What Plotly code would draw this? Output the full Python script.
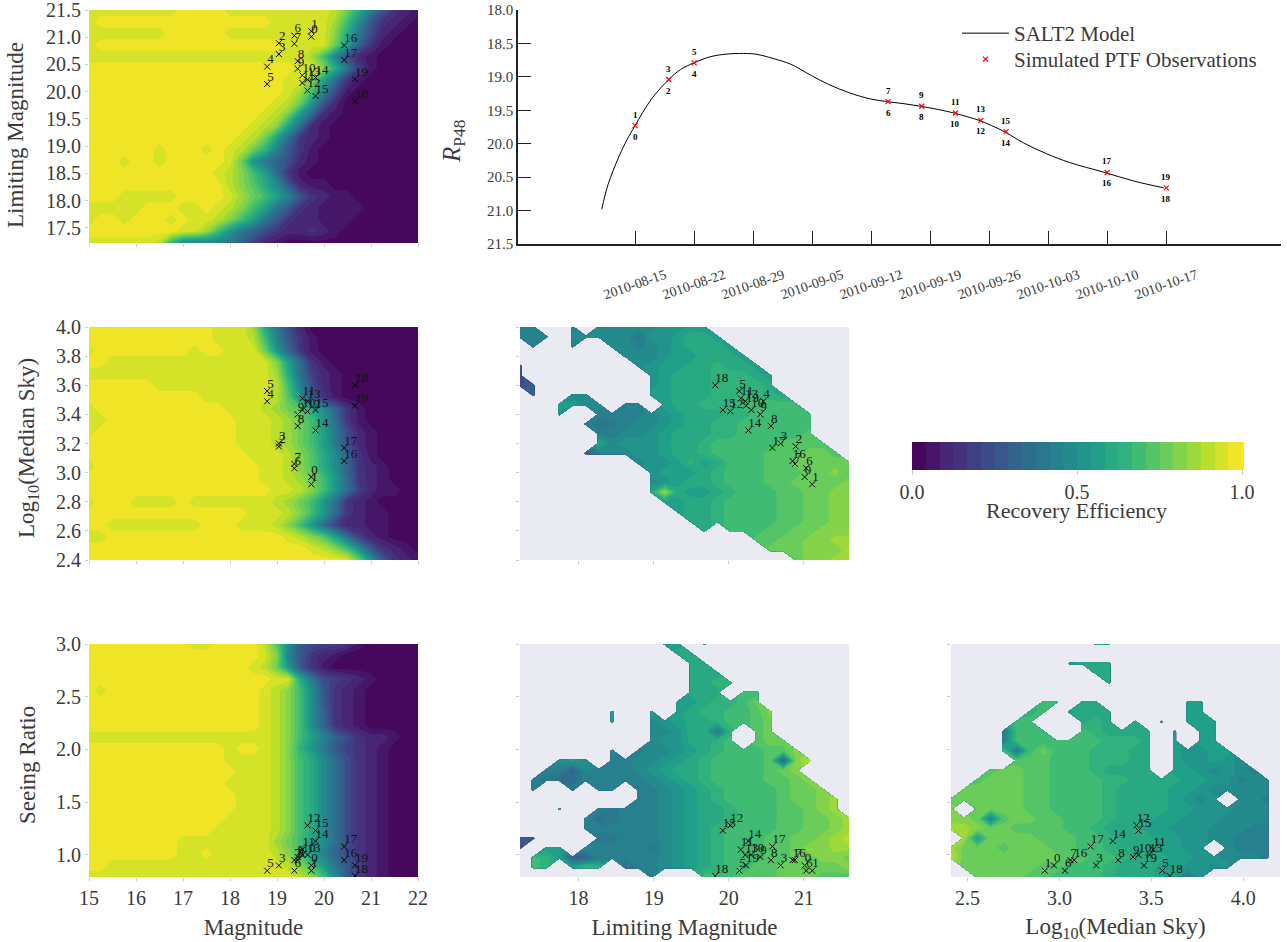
import plotly.graph_objects as go

# ---------- page placement ----------
OX, OY = 0, 0
W, H = 1287, 942
SERIF = "Liberation Serif"
INK = "#3a3a3a"

def xd(a, b):
    return [(a - OX) / W, (b - OX) / W]

def yd(top, bottom):
    return [1 - (bottom - OY) / H, 1 - (top - OY) / H]

def px(a):
    return (a - OX) / W

def py(b):
    return 1 - (b - OY) / H

# ---------- light curve ----------
model_day = [-3.95, -3.2, -1.9, -0.95, 0, 1.9, 4, 5.4, 7, 8.9, 10.8, 12.4, 14.3, 16.5, 18.45, 20.9, 22.9, 25.45,
             27.9, 29.85, 31.8, 33.9, 36, 37.8, 39.5, 40.8, 42.3, 43.8, 46.1, 48.8, 51.5, 55.7, 59.2, 62.7]
model_mag = [20.98, 20.61, 20.19, 19.94, 19.73, 19.34, 19.04, 18.89, 18.79, 18.70, 18.66, 18.65, 18.66, 18.73,
             18.81, 18.98, 19.11, 19.24, 19.33, 19.37, 19.40, 19.44, 19.49, 19.54, 19.60, 19.65, 19.73, 19.82,
             19.99, 20.15, 20.28, 20.43, 20.56, 20.66]
obs_day = [0, 4, 7, 30, 34, 38, 41, 44, 56, 63]
obs_day_mag = [19.73, 19.04, 18.79, 19.37, 19.44, 19.54, 19.65, 19.82, 20.43, 20.66]
date_ticks = [0, 7, 14, 21, 28, 35, 42, 49, 56, 63]
date_labels = ["2010-08-15", "2010-08-22", "2010-08-29", "2010-09-05", "2010-09-12",
               "2010-09-19", "2010-09-26", "2010-10-03", "2010-10-10", "2010-10-17"]

# ---------- the 20 simulated observations ----------
ids = [str(i) for i in range(20)]
obs_mag = [19.73, 19.73, 19.04, 19.04, 18.79, 18.79, 19.37, 19.37, 19.44, 19.44,
           19.54, 19.54, 19.65, 19.65, 19.82, 19.82, 20.43, 20.43, 20.66, 20.66]
obs_lim = [21.01, 21.11, 20.89, 20.69, 20.46, 20.14, 21.03, 20.88, 20.56, 20.42,
           20.30, 20.16, 20.02, 20.22, 20.26, 19.92, 20.85, 20.58, 19.82, 20.23]
obs_sky = [2.97, 2.92, 3.18, 3.20, 3.49, 3.56, 3.03, 3.06, 3.32, 3.40,
           3.43, 3.51, 3.42, 3.49, 3.29, 3.43, 3.08, 3.17, 3.60, 3.46]
obs_see = [0.90, 0.85, None, 0.90, None, 0.85, 0.85, 0.95, 0.95, 0.98,
           1.00, 1.05, 1.28, 1.00, 1.13, 1.23, 0.95, 1.08, 0.80, 0.90]

# ---------- efficiency maps: one letter per band, a = lowest band, x = highest, . = no data ----------
BANDS = "abcdefghijklmnopqrstuvwx"

mag_lim_map = [
    "wwwwwwwwxxxxwwwwwwwwwvsokgdcb",
    "wxxxxxxxxxxxxxxxwwwwwuqlgdcba",
    "wwwwwwwxxxxxwwwwwwwwwtojfcbaa",
    "wxxxxxxxxxxxxxxxxwwwwsnhdbaaa",
    "wwwwwwwwwwwwwwwwwwwuqkfcbaaaa",
    "xxxxxxxxxxxxxxxxxxwwtojebaaaa",
    "xxxxxxxxxxxxxxxxxwwtnidbaaaaa",
    "xxxxxxxxxxxxxxxxxwuqkfbaaaaaa",
    "xxxxxxxxxxxxxxxxwvsmgcaaaaaaa",
    "xxxxxxxxxxxxxxxwvsmhcbaaaaaaa",
    "xxxxxxxxxxxxxxwvtnicbaaaaaaaa",
    "xxxxxxxxxxxxxwvsnidcbaaaaaaaa",
    "xxxxxxwxxxwxwvspkgdbaaaaaaaaa",
    "xxxwxxwxxxxxwsmjhfcbaaaaaaaaa",
    "xxxxxxxxxxxwvtqnidbaaaaaaaaaa",
    "xxxxxxxxxxxxvtrolgcbbaaaaaaaa",
    "xxxwwwwwxxxxwusqnkgdcbbaaaaaa",
    "wwwwwxxxwwxwvtqnjgdcbbbbaaaaa",
    "wxxwxxxwxwwvtqnjgdccbbbaaaaaa",
    "xxxxxxxxwwuqmjhfdccdcbaaaaaaa",
    "wwwwwwvplkkkjhecbaaaaaaaaaaaa",
]
mag_sky_map = [
    "xxxxxxxxxxxwwwuojfcaaaaaaaaaa",
    "xxxxxxxxxxxwwwvqkgdbaaaaaaaaa",
    "wxxxxxxxxwxxwwwsmhdbaaaaaaaaa",
    "xxwwwwwwwwwwwwwwtnidbaaaaaaaa",
    "wwwwwwwwwwwwwwwwuoiecbaaaaaaa",
    "xxxxxxwwwwwwwwwwvqkfcbaaaaaaa",
    "xxxxxxxxxxwwwwwwvrlgdbaaaaaaa",
    "wxxxxxxxxxxxwwwvusrolhdbaaaaa",
    "wwxxxxxxxxxxxwwwvusqmidbaaaaa",
    "wxxxxxxxxxxxxwwwvusqnjfcbaaaa",
    "xxxxxxxxxxxxxwwwvusqnjfcbaaaa",
    "xxxxxxxxxxxxxxwwwvtrolhdbaaaa",
    "wxxxxxxxxxxxxxxwwvtrolhdcbaaa",
    "xxxxxxxxxxxxxxxwwvusqmidcbaaa",
    "xxxxxxxxxxxxxxxxwwvtqmiecbbaa",
    "wxxxwwwwxwwwwwwwvusqmidcbaaaa",
    "xxxxxxxxxxxxxxwwwvtqmidcbbaaa",
    "xxwwwwwwwwxxxwwwvtqmieccbbaaa",
    "wwxxxxxxxxxxxxxxxwvtrniecbaaa",
    "xxxxxxxxxxxxxxxxxxxwvtqlgdcba",
    "xxxxxxxxxxxxxxxxxxxxxxwsmgdcb",
]
mag_see_map = [
    "xxxxxxxxxwwxxxxvrlgfeedbaaaaa",
    "xxxxxxxxxxxxxxxwtkgdcbaaaaaaa",
    "xxxxxxxxxxxxxxwvsmgdbaaaaaaaa",
    "xxxxxxxxxxxxxxxxwwojfedcbaaaa",
    "xwxxxxxxxxxxxxxwvtqlgdcbaaaaa",
    "xxxxxxxxxxxxxxxwvtqlgdcbaaaaa",
    "xxxxxxxxxxxxxxxwvtqlhdcbaaaaa",
    "xxxxxxxxxxxxxxxwvtqlhdcbaaaaa",
    "wwwwwwwwwwwwwwwwvtqnkhfdccbaa",
    "xxxxxxxxxxxxwxxwvtpmjgedcbaaa",
    "xxxxxxxxxxxxwwwwvtqolifdcbaaa",
    "xxxxxxxxxxxxxwwwvtqolifdcbaaa",
    "xxxxxxxxxxxxwwwwvtqolifdcbaaa",
    "xxxxxxxxxxxxxwwwvtqolifdcbaaa",
    "xxxxxxxxxxxxxwwwvtqolifdcbaaa",
    "xxxxxxxxxxxxwwwwvtqolifdcbaaa",
    "xxxxxxxxxxxwwwwwvtqolifdcbaaa",
    "xxxxxxxxwwwwwwwwusqnlifdcbaaa",
    "xxxxxxxxwwxwwwwwvtqnkhfdcbaaa",
    "xxwwwwwwwwwwwwwwwvtqmjgecbaaa",
    "wwwwwwwwwwwwwwwwwwvtqlgdcbaaa",
]
lim_sky_map = [
    "kk..k.lllllmmnn...........",
    "kkk.llllljmmnoon..........",
    ".k..k..llklmnooon.........",
    "........lllmnnooon........",
    "g........lmnnoopoon.......",
    "f.........mnooopppon......",
    "fh........mnoooppppo......",
    ".h..ll....nnoooppqppo.....",
    "...nnll.kk.noopppqqqqq....",
    "...m..kkkklmnoooppqqqqq...",
    ".....kjjkllmnooppqqqqqq...",
    "......kkllmnoooppqqqqqr...",
    "......olmmmnoopqqqqqrrrr..",
    ".....hkllmmnoopqqqqrrrssr.",
    ".........lmmnpnoqqqrrsssss",
    "..........mnnnopqqqrrrsstr",
    "..........lmnoopqqqrrsssst",
    "..........ouonnopqqqrrsstt",
    "...........nnoopqqqqrrsstt",
    "............noopqqqqrrsstt",
    ".............oopqqqqrrsstt",
    "..............o.qqqrrssttt",
    "..................rrssttuu",
    "...................ssstttu",
    ".....................sttuu",
]
lim_see_map = [
    "...........nn.o...........",
    "............oo............",
    ".............oo...........",
    ".............ooo..........",
    ".............oopp.........",
    ".............ooo.qq.......",
    "............nnoppqs.......",
    ".......n..n.noppqqrt......",
    ".......n..lmnoopqqrs......",
    "..........llmoojp.rs......",
    "..........lmmoopq.rss.....",
    ".......l.kllmnopqqqrrt....",
    "...lnl.kkllmnopqqqqrhtv...",
    "..kkhlkkklmnoopqqqqrst....",
    ".kjiikkkkklmnopqqqqrrst...",
    ".k..j.kk.kklmnopqqqqrsst..",
    ".........kklmnopqqqqrsstu.",
    "...n..kjkkklmnoopqqqrrstu.",
    ".....lijkkklmnoopqqqrrsstu",
    ".....kkkkkklmnopqqqqrrsstu",
    "gg....jjkkklmnopqqqrrsstuv",
    "g.nn.lkkkkjlmnopqqqrrsttuu",
    ".qpnhhkkkkklmnopqqqrrsstts",
    ".qp.nqp.ikklmnopqqrrssssst",
    "..........k...qqqrrrsssrrr",
]
sky_see_map = [
    "...........oo.............",
    "..........................",
    ".........nooo.............",
    "...........oo.............",
    "............o.............",
    "..........................",
    ".......qq.oo......nn......",
    "......pq.nooo.....nn......",
    ".....qq...opo.o.n.nnn.....",
    "....jqqq..qpoooo.m.nn.....",
    "....kqqqqqqqpppo.n.nn.....",
    "....qjqsqqqpppoo.nmmnn....",
    ".....rrrqqqpppoo.nmmnml...",
    "...rssrrqqqpoooo.nnmlmlk..",
    "..rsssrrqqqqppoooonnmmkll.",
    ".sssssrrqqqqpoooonnmlllll.",
    "ssssssrrqqqqpoooonmlm.llk.",
    "t.ssssrrqqqqpoooonnmmmlll.",
    "ttskrssrrqqqpooonnmmmllll.",
    "uutssrrrrqqpooonnmmmlllkk.",
    ".unssssrrrqqpooonnmmllkkk.",
    "usssrsssrrqqpooonnmm.lkkk.",
    "vssssssssrrqqpooonnmmlllk.",
    ".ssssssrrqqqpooonnmmlm....",
    "..ssssrrqqqqpooonnjm......",
]

# ---------- axis extents ----------
mag_range = [15, 22]
lim_range_y = [17.22, 21.5]
sky_range_y = [2.4, 4.0]
see_range_y = [0.79, 3.0]
lim_range_x = [17.22, 21.6]
sky_range_x = [2.41, 4.2]


def decode(rows):
    n = max(len(r) for r in rows)
    out = []
    for r in reversed(rows):
        r = r.ljust(n, ".")
        out.append([None if c == "." else (BANDS.index(c) + 0.5) / 24 for c in r])
    return out


def grid(lo, hi, n):
    return [lo + (hi - lo) * i / (n - 1) for i in range(n)]


fig = go.Figure()

panels = [
    (mag_lim_map, mag_range, lim_range_y, obs_mag, obs_lim, "", (89, 418, 10, 243)),
    (mag_sky_map, mag_range, sky_range_y, obs_mag, obs_sky, "2", (89, 418, 327, 560)),
    (lim_sky_map, lim_range_x, sky_range_y, obs_lim, obs_sky, "3", (520, 849, 327, 560)),
    (mag_see_map, mag_range, see_range_y, obs_mag, obs_see, "4", (89, 418, 644, 877)),
    (lim_see_map, lim_range_x, see_range_y, obs_lim, obs_see, "5", (520, 849, 644, 877)),
    (sky_see_map, sky_range_x, see_range_y, obs_sky, obs_see, "6", (951, 1280, 644, 877)),
]

first = True
bg_shapes = []
for m, xr, yr, ox, oy, sfx, box in panels:
    z = decode(m)
    bg_shapes.append(dict(type="rect", xref=f"x{sfx} domain", yref=f"y{sfx} domain", x0=0, x1=1, y0=0, y1=1,
                          fillcolor="#EAEAF2", line=dict(width=0), layer="below"))
    fig.add_trace(go.Contour(
        x=grid(xr[0], xr[1], len(z[0])), y=grid(yr[0], yr[1], len(z)), z=z,
        xaxis="x" + sfx, yaxis="y" + sfx, zmin=0, zmax=1, colorscale="Viridis",
        connectgaps=False, hoverinfo="skip",
        contours=dict(start=0, end=1, size=1 / 24, coloring="fill", showlines=False),
        line=dict(width=0, smoothing=0),
        showscale=first,
        colorbar=dict(orientation="h", x=px(912), xanchor="left", y=py(442), yanchor="top",
                      lenmode="pixels", len=330, thicknessmode="pixels", thickness=28, xpad=0, ypad=0,
                      tickvals=[0, 0.5, 1], ticktext=["0.0", "0.5", "1.0"], ticks="outside", ticklen=5,
                      tickcolor="#cccccc", outlinewidth=0, tickfont=dict(family=SERIF, size=20, color=INK)),
    ))
    first = False
    keep = [i for i in range(20) if ox[i] is not None and oy[i] is not None]
    kx = [ox[i] for i in keep]
    ky = [oy[i] for i in keep]
    fig.add_trace(go.Scatter(
        x=kx, y=ky, xaxis="x" + sfx, yaxis="y" + sfx, mode="markers", hoverinfo="skip", showlegend=False,
        marker=dict(symbol="x-thin", size=6, line=dict(width=1, color="black"), color="black"),
    ))
    fig.add_trace(go.Scatter(
        x=kx, y=ky, xaxis="x" + sfx, yaxis="y" + sfx, mode="text", text=[ids[i] for i in keep],
        textposition="top right", textfont=dict(family=SERIF, size=13, color="#111111"),
        hoverinfo="skip", showlegend=False,
    ))

# light curve traces
fig.add_trace(go.Scatter(x=model_day, y=model_mag, xaxis="x7", yaxis="y7", mode="lines", name="SALT2 Model",
                         legend="legend", line=dict(color="black", width=1, shape="spline"), hoverinfo="skip"))
fig.add_trace(go.Scatter(x=obs_day, y=obs_day_mag, xaxis="x7", yaxis="y7", mode="markers",
                         name="Simulated PTF Observations", hoverinfo="skip", legend="legend2",
                         marker=dict(symbol="x-thin", size=5, line=dict(width=1.2, color="red"), color="red")))

annots = []
for i, (d, mg) in enumerate(zip(obs_day, obs_day_mag)):
    for label, shift in ((str(2 * i), -11), (str(2 * i + 1), 11)):
        annots.append(dict(x=d, y=mg, xref="x7", yref="y7", text=label, showarrow=False, yshift=shift,
                           font=dict(family=SERIF, size=9, color="black", weight=700)))

TF = dict(family=SERIF, size=20, color=INK)
TITLE = dict(family=SERIF, size=23, color=INK)
LOG_SKY = "Log<sub>10</sub>(Median Sky)"

# axis titles that sit at the reference's own offsets
for text, ax, ay, ang, size in [("Limiting Magnitude", 16, 135, -90, 23), (LOG_SKY, 28, 448, -90, 23),
                                ("Seeing Ratio", 27, 765, -90, 23), ("<i>R</i><sub>P48</sub>", 454, 141, -90, 25),
                                ("Recovery Efficiency", 1076, 510, 0, 22)]:
    annots.append(dict(x=px(ax), y=py(ay), xref="paper", yref="paper", text=text, showarrow=False, textangle=ang,
                       xanchor="center", yanchor="middle", font=dict(family=SERIF, size=size, color=INK)))


def panel_axes(xr, yr, box, xdt, ydt, xfmt, yfmt, xtitle=None, xlab=False, ylab=False):
    x0, x1, t, b = box
    xa = dict(domain=xd(x0, x1), range=xr, tickmode="array", tickvals=xdt, ticks="outside", ticklen=3, tickwidth=1,
              tickformat=xfmt, tickcolor="#cccccc", showgrid=False, zeroline=False, showline=False,
              showticklabels=xlab, tickfont=TF, ticklabeloverflow="allow")
    ya = dict(domain=yd(t, b), range=yr, tickmode="array", tickvals=ydt, ticks="outside", ticklen=3, tickwidth=1,
              tickformat=yfmt, tickcolor="#cccccc", showgrid=False, zeroline=False, showline=False,
              showticklabels=ylab, tickfont=TF, ticklabeloverflow="allow")
    if xtitle:
        xa["title"] = dict(text=xtitle, font=TITLE, standoff=10)
    return xa, ya


mag_t = [15, 16, 17, 18, 19, 20, 21, 22]
lim_t = [17.5, 18, 18.5, 19, 19.5, 20, 20.5, 21, 21.5]
sky_t = [2.4, 2.6, 2.8, 3.0, 3.2, 3.4, 3.6, 3.8, 4.0]
see_t = [1.0, 1.5, 2.0, 2.5, 3.0]
limx_t = [18, 19, 20, 21]
skyx_t = [2.5, 3.0, 3.5, 4.0]

xa1, ya1 = panel_axes(mag_range, lim_range_y, panels[0][6], mag_t, lim_t, "d", ".1f", ylab=True)
xa2, ya2 = panel_axes(mag_range, sky_range_y, panels[1][6], mag_t, sky_t, "d", ".1f", ylab=True)
xa3, ya3 = panel_axes(lim_range_x, sky_range_y, panels[2][6], limx_t, sky_t, "d", ".1f")
xa4, ya4 = panel_axes(mag_range, see_range_y, panels[3][6], mag_t, see_t, "d", ".1f", xtitle="Magnitude",
                      xlab=True, ylab=True)
xa5, ya5 = panel_axes(lim_range_x, see_range_y, panels[4][6], limx_t, see_t, "d", ".1f", xtitle="Limiting Magnitude", xlab=True)
xa6, ya6 = panel_axes(sky_range_x, see_range_y, panels[5][6], skyx_t, see_t, ".1f", ".1f", xtitle=LOG_SKY, xlab=True)

xa7 = dict(domain=xd(518, 1281), range=[-13.88, 76.6], tickmode="array", tickvals=date_ticks, ticktext=date_labels,
           ticks="inside", ticklen=13, tickwidth=1.2, tickcolor="#222222", tickangle=-19, showgrid=False,
           zeroline=False, showline=True, linecolor="#222222", linewidth=1.5, ticklabelshift=30, ticklabelstandoff=16,
           tickfont=dict(family=SERIF, size=14, color=INK), anchor="y7", ticklabeloverflow="allow")
ya7 = dict(domain=yd(10, 244), range=[21.5, 18.0], tickmode="array", tickvals=[18, 18.5, 19, 19.5, 20, 20.5, 21, 21.5],
           ticktext=["18.0", "18.5", "19.0", "19.5", "20.0", "20.5", "21.0", "21.5"], ticks="inside", ticklen=13,
           tickwidth=1.2, tickcolor="#222222", showgrid=False, zeroline=False, showline=True, linecolor="#222222",
           linewidth=1.5, tickfont=dict(family=SERIF, size=15, color=INK), anchor="x7", ticklabeloverflow="allow")

LEG_FONT = dict(family=SERIF, size=21, color=INK)
fig.update_layout(
    width=W, height=H, margin=dict(l=0, r=0, t=0, b=0, autoexpand=False), paper_bgcolor="white",
    plot_bgcolor="white", showlegend=True,
    legend=dict(x=px(957), y=py(13), xanchor="left", yanchor="top", bgcolor="rgba(0,0,0,0)", font=LEG_FONT, itemwidth=47),
    legend2=dict(x=px(957), y=py(39), xanchor="left", yanchor="top", bgcolor="rgba(0,0,0,0)", font=LEG_FONT, itemwidth=47),
    xaxis=dict(xa1, anchor="y"), yaxis=dict(ya1, anchor="x"),
    xaxis2=dict(xa2, anchor="y2"), yaxis2=dict(ya2, anchor="x2"),
    xaxis3=dict(xa3, anchor="y3"), yaxis3=dict(ya3, anchor="x3"),
    xaxis4=dict(xa4, anchor="y4"), yaxis4=dict(ya4, anchor="x4"),
    xaxis5=dict(xa5, anchor="y5"), yaxis5=dict(ya5, anchor="x5"),
    xaxis6=dict(xa6, anchor="y6"), yaxis6=dict(ya6, anchor="x6"),
    xaxis7=xa7, yaxis7=ya7,
    annotations=annots, shapes=bg_shapes,
)

fig.write_html("out.html", config={"displayModeBar": False}, post_script="document.body.style.margin='0';")
